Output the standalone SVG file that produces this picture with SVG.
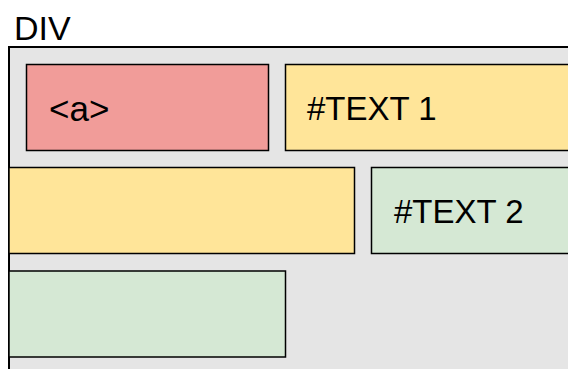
<svg xmlns="http://www.w3.org/2000/svg" width="568" height="369" viewBox="0 0 568 369">
<style>
.box{stroke:#000;stroke-width:1.5}
.red{fill:#f19c99}
.yel{fill:#ffe599}
.grn{fill:#d5e8d4}
.lbl{font-family:"Liberation Sans",Arial,sans-serif;font-size:33px;fill:#000}
</style>
<rect width="568" height="369" fill="#ffffff"/>
<g id="div">
<rect x="9" y="47" width="600" height="400" fill="#e5e5e5" stroke="#000" stroke-width="2"/>
<text class="lbl" x="14" y="40" style="font-size:34px">DIV</text>
</g>
<g id="a">
<rect class="box red" x="26.5" y="64.5" width="242" height="86"/>
<text class="lbl" x="49" y="120.5" style="font-size:35px">&lt;a&gt;</text>
</g>
<g id="text1">
<rect class="box yel" x="285.5" y="64.5" width="300" height="86"/>
<text class="lbl" x="307" y="120">#TEXT 1</text>
</g>
<g id="text1b">
<rect class="box yel" x="9" y="167.5" width="345.5" height="86"/>
</g>
<g id="text2">
<rect class="box grn" x="371.5" y="167.5" width="220" height="86"/>
<text class="lbl" x="394" y="223">#TEXT 2</text>
</g>
<g id="text2b">
<rect class="box grn" x="9" y="271" width="276.5" height="86"/>
</g>
<g id="connectors"></g>
</svg>
